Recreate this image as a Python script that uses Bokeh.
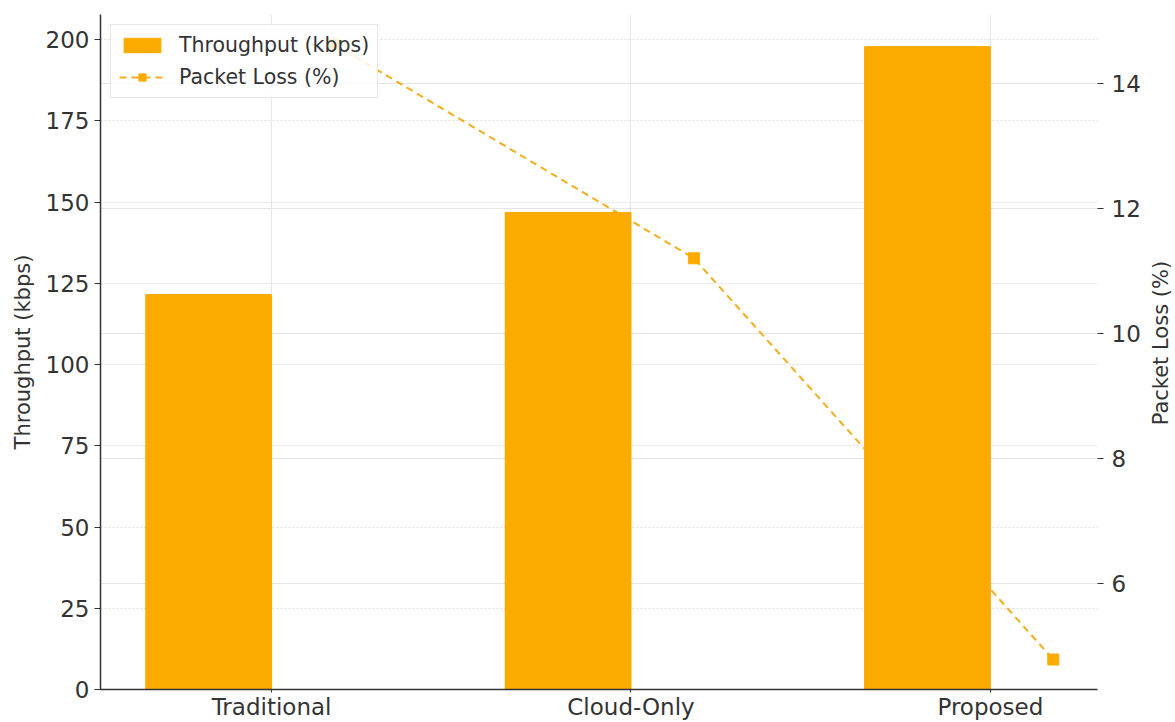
import math
import numpy as np
from bokeh.plotting import figure
from bokeh.layouts import row
from bokeh.models import (Range1d, LinearAxis, FixedTicker, Grid, Legend, LegendItem,
                          ColumnDataSource)
from bokeh.core.properties import value
from bokeh.embed import file_html
from bokeh.resources import INLINE

categories = ["Traditional", "Cloud-Only", "Proposed"]
throughput = [121.5, 146.8, 197.8]
packet_loss = [14.62, 11.2, 4.78]
left_ticks = [0, 25, 50, 75, 100, 125, 150, 175, 200]
right_ticks = [6, 8, 10, 12, 14]
right_title = "Packet Loss (%)"

bar_width = 0.35
xs = np.arange(len(categories))
bar_src = ColumnDataSource(dict(x=xs - bar_width / 2, top=throughput))
line_src = ColumnDataSource(dict(x=xs + bar_width / 2, y=packet_loss))

FONT = "DejaVu Sans"
TXT = "#333333"
BAR = "#FBAA00"
LINE = "#F2AE1C"

W, H = 1175, 722
SIDE_W = 30
p = figure(width=W - SIDE_W, height=H, output_backend="svg", toolbar_location=None,
           x_range=Range1d(-0.476, 2.298), y_range=Range1d(0, 207.7),
           min_border_left=100, min_border_right=48, min_border_top=14, min_border_bottom=33)
p.extra_y_ranges = {"right": Range1d(4.30, 15.10)}
p.outline_line_color = None
p.background_fill_color = "white"
p.border_fill_color = "white"

# grids
p.xgrid.ticker = FixedTicker(ticks=list(xs))
p.xgrid.grid_line_color = "#e6e6e6"
p.ygrid.ticker = FixedTicker(ticks=left_ticks)
p.ygrid.grid_line_color = "#dddddd"
p.ygrid.grid_line_dash = "2 2"
rgrid = Grid(dimension=1, ticker=FixedTicker(ticks=right_ticks), y_range_name="right",
             grid_line_color="#e4e4e4")
p.add_layout(rgrid)

# line (drawn under bars)
l = p.line("x", "y", source=line_src, y_range_name="right", line_color=LINE,
           line_width=2, line_dash="7 5")
s = p.scatter("x", "y", source=line_src, y_range_name="right", marker="square",
              size=11, fill_color=BAR, line_color=BAR)
b = p.vbar(x="x", top="top", width=bar_width, source=bar_src, fill_color=BAR,
           line_color=BAR)

# axes
xaxis = p.below[0]
yaxis = p.left[0]
xaxis.ticker = FixedTicker(ticks=list(xs))
xaxis.major_label_overrides = {int(i): c for i, c in zip(xs, categories)}
xaxis.minor_tick_line_color = None
xaxis.major_tick_in = 0
xaxis.major_tick_out = 3
xaxis.major_label_standoff = 1

yaxis.ticker = FixedTicker(ticks=left_ticks)
yaxis.minor_tick_line_color = None
yaxis.major_tick_in = 0
yaxis.major_tick_out = 6
yaxis.axis_label = "Throughput (kbps)"

raxis = LinearAxis(y_range_name="right", ticker=FixedTicker(ticks=right_ticks))
raxis.minor_tick_line_color = None
raxis.major_tick_in = 0
raxis.major_tick_out = 6
raxis.major_label_standoff = 8
p.add_layout(raxis, "right")

for ax in [xaxis, yaxis, raxis]:
    ax.major_label_text_font = FONT
    ax.major_label_text_font_size = "23px"
    ax.major_label_text_color = TXT
    ax.axis_label_text_font = FONT
    ax.axis_label_text_font_size = "21px"
    ax.axis_label_text_font_style = "normal"
    ax.axis_label_text_color = TXT
    ax.major_tick_line_color = "#333333"
    ax.axis_label_standoff = 8
xaxis.axis_line_color = "#333333"
yaxis.axis_line_color = "#333333"
xaxis.axis_line_width = 1.5
yaxis.axis_line_width = 1.5
raxis.axis_line_color = None

legend = Legend(items=[LegendItem(label="Throughput (kbps)", renderers=[b]),
                       LegendItem(label="Packet Loss (%)", renderers=[l, s])],
                location="top_left")
legend.label_text_font = FONT
legend.label_text_font_size = "20.5px"
legend.label_text_color = TXT
legend.border_line_color = "#d0d0d0"
legend.background_fill_alpha = 0.85
legend.glyph_width = 46
legend.glyph_height = 18
legend.spacing = 8
legend.padding = 8
legend.margin = 10
legend.label_standoff = 14
p.add_layout(legend)

# narrow side strip holding the right-hand axis title (reads bottom-to-top)
side = figure(width=SIDE_W, height=H, output_backend="svg", toolbar_location=None,
              x_range=Range1d(0, 1), y_range=Range1d(0, H),
              x_axis_type=None, y_axis_type=None,
              min_border_left=0, min_border_right=0, min_border_top=0, min_border_bottom=0)
side.outline_line_color = None
side.grid.visible = False
side.background_fill_color = "white"
side.border_fill_color = "white"
frame_mid = H - (14 + (H - 33)) / 2
side.text(x=[0.5], y=[frame_mid], text=[right_title], angle=math.pi / 2,
          text_align="center", text_baseline="middle", text_font=value(FONT),
          text_font_size="21px", text_color=TXT)

layout = row(p, side, spacing=0)
open("out.html", "w").write(file_html(layout, INLINE))
